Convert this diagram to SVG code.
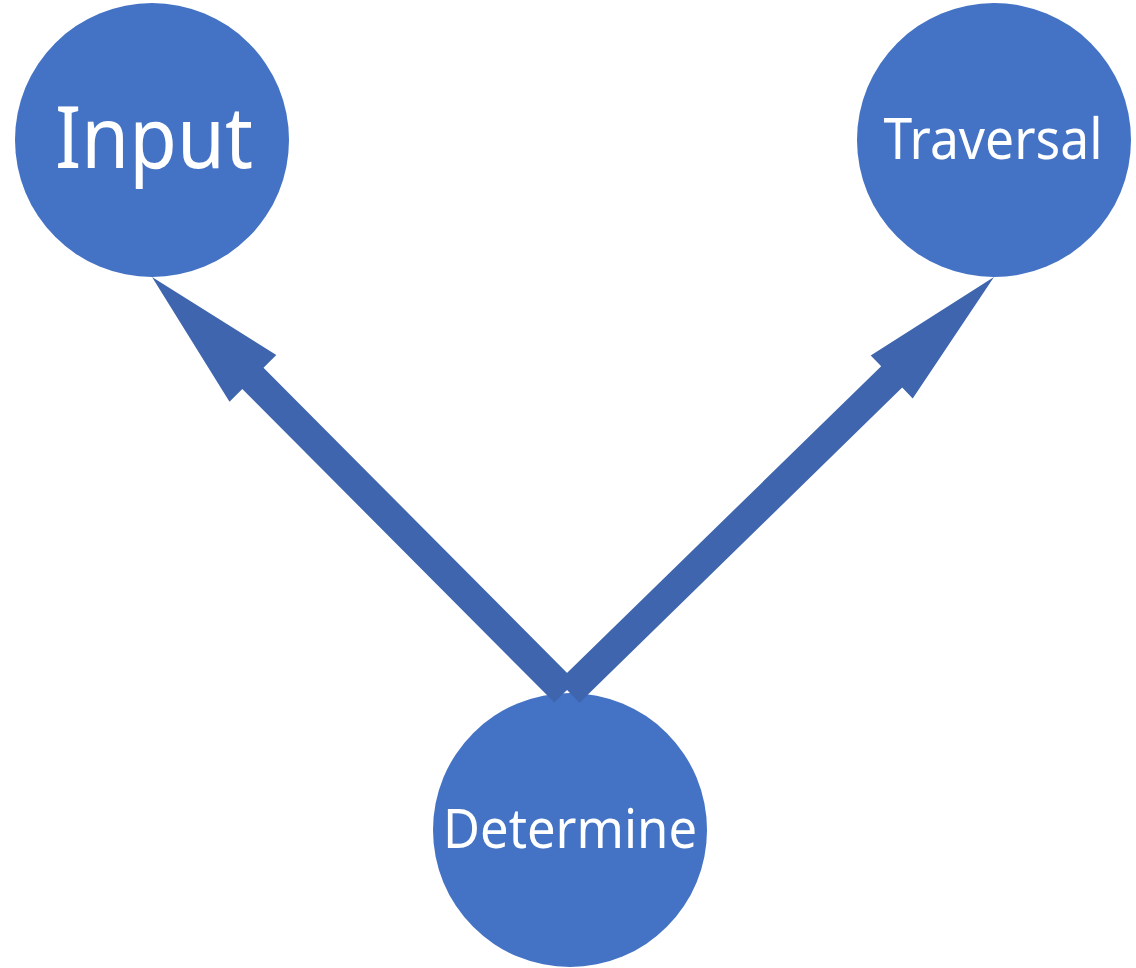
<svg xmlns="http://www.w3.org/2000/svg" width="1136" height="968" viewBox="0 0 1136 968">
<style>
.node{fill:#4472C4}
.arrow{fill:#3E65AE}
.lbl{fill:#FFFFFF;font-family:"Noto Sans","Open Sans","DejaVu Sans",sans-serif;text-anchor:middle}
</style>
<rect width="1136" height="968" fill="#FFFFFF"/>
<g id="node-input">
<circle class="node" cx="152" cy="140" r="137"/>
<text class="lbl" x="154" y="168" font-size="85" textLength="198" lengthAdjust="spacingAndGlyphs">Input</text>
</g>
<g id="node-traversal">
<circle class="node" cx="994" cy="140" r="137"/>
<text class="lbl" x="993" y="159" font-size="56" textLength="219" lengthAdjust="spacingAndGlyphs">Traversal</text>
</g>
<g id="node-determine">
<circle class="node" cx="570" cy="830" r="137"/>
<text class="lbl" x="570" y="848" font-size="54" textLength="254" lengthAdjust="spacingAndGlyphs">Determine</text>
</g>
<g id="connectors">
<polygon class="arrow" points="152,277 276.3,355.1 263.5,367.8 575.6,681.4 554.4,702.6 242.3,389 229.5,401.7"/>
<polygon class="arrow" points="994,277 912.7,398.4 902.2,387.6 579.5,702.7 558.5,681.3 881.2,366.2 870.7,355.4"/>
</g>
</svg>
